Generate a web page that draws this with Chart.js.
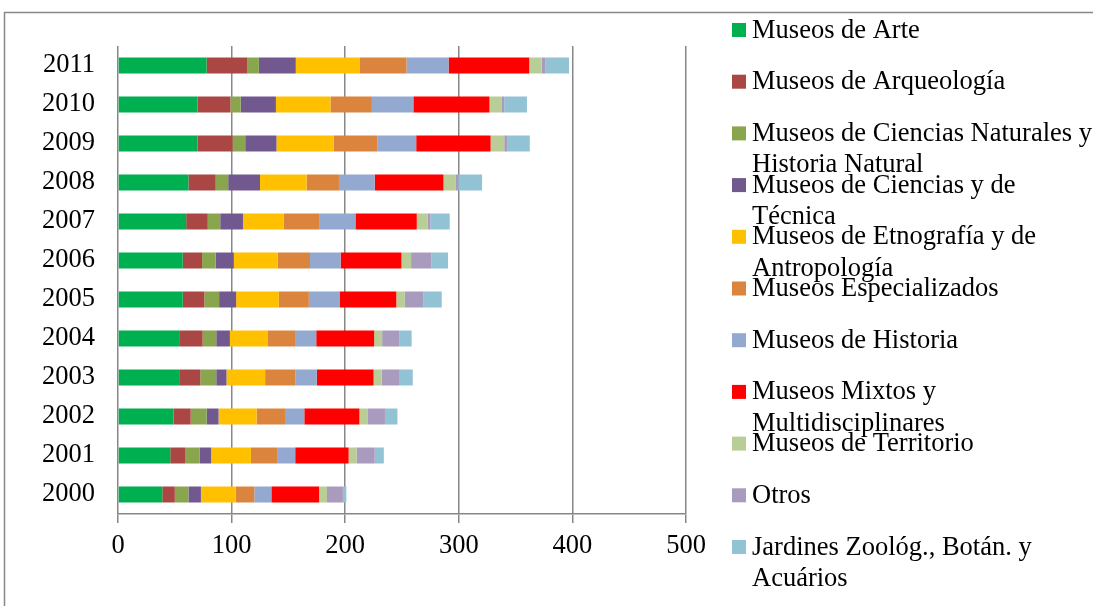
<!DOCTYPE html>
<html>
<head>
<meta charset="utf-8">
<script src="https://cdn.jsdelivr.net/npm/chart.js@4.4.1/dist/chart.umd.min.js"></script>
<style>
  html, body { margin: 0; padding: 0; background: #ffffff; }
  #contenedor { width: 1093px; height: 606px; }
</style>
</head>
<body>
<div id="contenedor"><canvas id="graficoMuseos" width="1093" height="606"></canvas></div>
<script>
// Años (de abajo hacia arriba en el gráfico)
const anios = ["2000", "2001", "2002", "2003", "2004", "2005", "2006", "2007", "2008", "2009", "2010", "2011"];

const escalaX = [0, 100, 200, 300, 400, 500];

// Número de museos por tipología y año
const museosArte          = [39, 46, 49, 54.5, 54.5, 57, 57, 60, 62, 70, 70, 78];
const museosArqueologia   = [11, 13, 15, 18, 20, 19, 17, 19, 24, 31, 29, 36];
const museosCienciasNat   = [12, 13, 14, 14, 12, 13, 12, 11, 11, 11, 9, 10];
const museosCienciasTec   = [11, 10, 10.5, 9, 12, 15, 16, 20, 28, 27.5, 31, 32.5];
const museosEtnografia    = [30.5, 35, 33.5, 34, 33, 37.5, 38.5, 36, 41, 50.5, 48, 56];
const museosEspecializ    = [16.5, 23, 25, 26.5, 25, 26.5, 28.5, 31, 28.5, 38.5, 36.5, 41.5];
const museosHistoria      = [15, 16, 17, 19, 18, 27, 27, 32, 31.5, 34, 36.5, 37];
const museosMixtos        = [42, 47, 48.5, 50, 51, 50, 53.5, 54, 60.5, 65.5, 67, 71];
const museosTerritorio    = [7, 7, 7.5, 7, 7, 7.5, 8.5, 9.5, 10.5, 12, 11, 11];
const museosOtros         = [14, 16, 15, 16, 15, 16.5, 18, 2.5, 2.5, 2.5, 2, 3];
const jardinesAcuarios    = [3, 8, 11, 11.5, 11, 16, 14.5, 17, 21, 20, 20, 21];

const series = [
  { label: "Museos de Arte", data: museosArte, color: "#00B050" },
  { label: "Museos de Arqueología", data: museosArqueologia, color: "#AA4643" },
  { label: "Museos de Ciencias Naturales y Historia Natural", data: museosCienciasNat, color: "#89A54E" },
  { label: "Museos de Ciencias y de Técnica", data: museosCienciasTec, color: "#71588F" },
  { label: "Museos de Etnografía y de Antropología", data: museosEtnografia, color: "#FFC000" },
  { label: "Museos Especializados", data: museosEspecializ, color: "#DB843D" },
  { label: "Museos de Historia", data: museosHistoria, color: "#93A9CF" },
  { label: "Museos Mixtos y Multidisciplinares", data: museosMixtos, color: "#FF0000" },
  { label: "Museos de Territorio", data: museosTerritorio, color: "#B9CD96" },
  { label: "Otros", data: museosOtros, color: "#A99BBD" },
  { label: "Jardines Zoológ., Botán. y Acuários", data: jardinesAcuarios, color: "#92C3D5" },
];

const fuente = "Liberation Serif";
const tamFuente = 26.5;
const gris = "#878787";

// parte una etiqueta en varias líneas según el ancho disponible
function partirTexto(ctx, texto, ancho) {
  const palabras = texto.split(" ");
  const lineas = [];
  let actual = "";
  palabras.forEach((p) => {
    const prueba = actual ? actual + " " + p : p;
    if (ctx.measureText(prueba).width > ancho && actual) {
      lineas.push(actual);
      actual = p;
    } else {
      actual = prueba;
    }
  });
  if (actual) lineas.push(actual);
  return lineas;
}

// marco exterior del gráfico
const marco = {
  id: "marco",
  beforeDraw(chart) {
    const ctx = chart.ctx;
    ctx.save();
    ctx.strokeStyle = gris;
    ctx.lineWidth = 1.5;
    ctx.beginPath();
    ctx.moveTo(4.5, chart.height);
    ctx.lineTo(4.5, 12.5);
    ctx.lineTo(chart.width, 12.5);
    ctx.stroke();
    ctx.restore();
  },
};

// leyenda a la derecha, con etiquetas en dos líneas cuando no caben
const leyendaLateral = {
  id: "leyendaLateral",
  afterDraw(chart, args, opts) {
    const ctx = chart.ctx;
    ctx.save();
    ctx.font = opts.size + "px '" + fuente + "'";
    ctx.textBaseline = "alphabetic";
    ctx.textAlign = "left";
    chart.data.datasets.forEach((ds, i) => {
      const y = opts.top + i * opts.step;
      ctx.fillStyle = ds.backgroundColor;
      ctx.fillRect(opts.x, y - opts.box / 2, opts.box, opts.box);
      ctx.fillStyle = "#000000";
      partirTexto(ctx, ds.label, opts.maxWidth).forEach((linea, j) => {
        ctx.fillText(linea, opts.x + opts.box + opts.gap, y + opts.baseline + j * opts.lineHeight);
      });
    });
    ctx.restore();
  },
};

const datos = {
  labels: anios,
  datasets: series.map((s) => ({
    label: s.label,
    data: s.data,
    backgroundColor: s.color,
    borderWidth: 0,
    categoryPercentage: 1,
    barPercentage: 0.41,
  })),
};

const config = {
  type: "bar",
  data: datos,
  plugins: [marco, leyendaLateral],
  options: {
    indexAxis: "y",
    responsive: false,
    devicePixelRatio: 1,
    animation: false,
    layout: {
      padding: { left: 0, top: 46, right: 407, bottom: 0 },
    },
    scales: {
      x: {
        stacked: true,
        min: 0,
        max: 500,
        afterBuildTicks: (scale) => {
          scale.ticks = escalaX.map((v) => ({ value: v }));
        },
        afterFit: (scale) => {
          scale.height = 92;
        },
        grid: {
          color: gris,
          lineWidth: 1.5,
          drawTicks: true,
          tickLength: 9,
        },
        border: { display: true, color: gris, width: 1.5 },
        ticks: {
          color: "#000000",
          padding: 7,
          font: { family: fuente, size: tamFuente },
        },
      },
      y: {
        stacked: true,
        reverse: true,
        afterFit: (scale) => {
          scale.width = 118;
        },
        grid: { display: false, drawTicks: false },
        border: { display: false },
        ticks: {
          color: "#000000",
          padding: 23,
          font: { family: fuente, size: tamFuente },
        },
      },
    },
    plugins: {
      legend: { display: false },
      tooltip: { enabled: false },
      leyendaLateral: {
        x: 732,
        top: 30,
        step: 51.7,
        box: 14,
        gap: 6,
        size: tamFuente,
        baseline: 7.5,
        lineHeight: 31.5,
        maxWidth: 347,
      },
    },
  },
};

new Chart(document.getElementById("graficoMuseos").getContext("2d"), config);
</script>
</body>
</html>
